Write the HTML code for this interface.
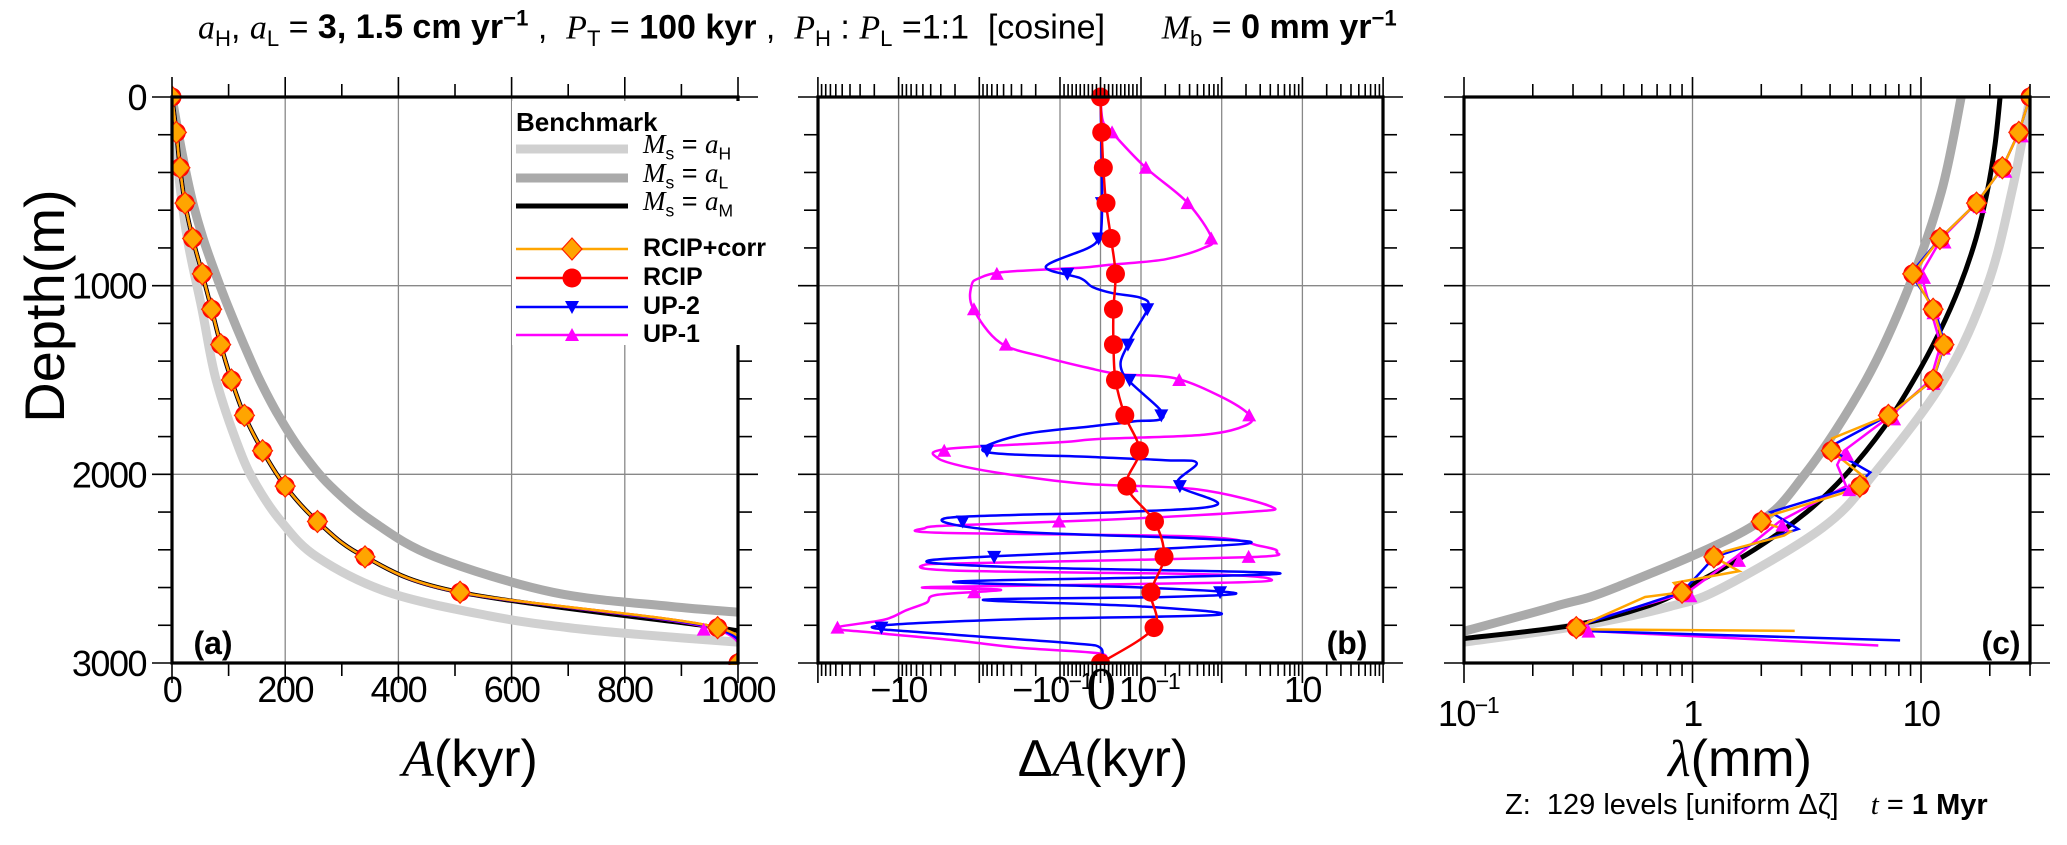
<!DOCTYPE html>
<html><head><meta charset="utf-8">
<style>
body{margin:0;width:2067px;height:845px;background:#fff;position:relative;overflow:hidden;font-family:"Liberation Sans",sans-serif}
.t{position:absolute;white-space:pre;color:#000;line-height:1}
.c{text-align:center;width:400px}
.m{font-family:"Liberation Serif",serif;font-style:italic}
sub,sup{font-size:65%}
</style></head>
<body>
<svg id="chart" width="2067" height="845" style="position:absolute;left:0;top:0"></svg>

<div class="t" style="left:198px;top:8px;font-size:34px;"><span class="m">a</span><sub>H</sub>, <span class="m">a</span><sub>L</sub> = <b>3, 1.5 cm yr<sup>−1</sup></b> ,  <span class="m">P</span><sub>T</sub> = <b>100 kyr</b> ,  <span class="m">P</span><sub>H</sub> : <span class="m">P</span><sub>L</sub> =1:1  [cosine]      <span class="m">M</span><sub>b</sub> = <b>0 mm yr<sup>−1</sup></b></div>

<div class="t" style="left:-80px;top:278px;font-size:56px;transform:rotate(-90deg);transform-origin:center;width:250px;text-align:center">Depth(m)</div>
<div class="t c" style="left:270px;top:733px;font-size:52px;"><span class="m">A</span>(kyr)</div>
<div class="t c" style="left:903px;top:733px;font-size:52px;">Δ<span class="m">A</span>(kyr)</div>
<div class="t c" style="left:1540px;top:733px;font-size:52px;"><span class="m">λ</span>(mm)</div>
<div class="t" style="left:1505px;top:791px;font-size:29px;">Z:  129 levels [uniform Δζ]    <span class="m">t</span> = <b>1 Myr</b></div>

<div class="t" style="left:516px;top:109px;font-size:26px;font-weight:bold">Benchmark</div>
<div class="t" style="left:643px;top:131px;font-size:27px;"><span class="m">M</span><sub>s</sub> = <span class="m">a</span><sub>H</sub></div>
<div class="t" style="left:643px;top:160px;font-size:27px;"><span class="m">M</span><sub>s</sub> = <span class="m">a</span><sub>L</sub></div>
<div class="t" style="left:643px;top:188px;font-size:27px;"><span class="m">M</span><sub>s</sub> = <span class="m">a</span><sub>M</sub></div>
<div class="t" style="left:643px;top:236px;font-size:25px;font-weight:bold">RCIP+corr</div>
<div class="t" style="left:643px;top:265px;font-size:25px;font-weight:bold">RCIP</div>
<div class="t" style="left:643px;top:294px;font-size:25px;font-weight:bold">UP-2</div>
<div class="t" style="left:643px;top:322px;font-size:25px;font-weight:bold">UP-1</div>

<script>
// ---------- data ----------
const markerDepths = [0,187.5,375,562.5,750,937.5,1125,1312.5,1500,1687.5,1875,2062.5,2250,2437.5,2625,2812.5,3000];
// panel a: age (kyr)
const ageRCIP = [0,7.7,14,23,36.5,53.6,70,86,105,128,160,200,257,341,509,964,1000];
const ageCorr = [0,7.7,14,23,36.5,53.6,70,86,105,128,160,200,257,341,509,964,1000];
const ageUP2  = [0,7.7,14,23,36.5,53.6,70,86,105,128,160,200,257,341,507,955,1000];
const ageUP1  = [0,7.7,14,23,36.5,53.6,70,86,105,128,160,200,257,341,506,950,1000];
const benchHDepth = [0,375,750,1125,1500,1875,2062.5,2250,2437.5,2625,2750,2812.5,2850,2890];
const benchHAge   = [0,10.5,27,53,78,120,150,193,256,382,560,700,830,1000];
const benchMDepth = [0,187.5,375,562.5,750,937.5,1125,1312.5,1500,1687.5,1875,2062.5,2250,2437.5,2625,2812.5,2832];
const benchMAge   = [0,7.7,14,23,36.5,53.6,70,86,105,128,160,200,257,341,509,964,1000];
const benchLDepth = [0,187.5,375,562.5,750,937.5,1125,1312.5,1500,1687.5,1875,2062.5,2250,2437.5,2625,2700,2730];
const benchLAge   = [0,11,23,37,55,77,101,127,155,188,228,280,355,465,673,880,1000];
// panel b: age error (kyr)
const diffRCIP = [0,0.003,0.007,0.0136,0.026,0.037,0.032,0.032,0.037,0.06,0.096,0.065,0.147,0.193,0.133,0.145,0];
const up1Depth = [0,120,175,371,557,747,800,860,890,905,927,960,1000,1118,1303,1380,1436,1470,1490,1590,1685,1740,1790,1812,1830,1866,1913,1960,2010,2051,2080,2173,2200,2242,2270,2285,2310,2330,2380,2411,2440,2470,2480,2510,2530,2555,2575,2597,2610,2620,2640,2680,2720,2770,2814,2840,2880,2920,2950,3000];
const up1Diff  = [0,0.005,0.023,0.112,0.37,0.75,0.6,0.2,0.02,-0.05,-0.48,-1.0,-1.25,-1.2,-0.55,-0.15,-0.03,0.05,0.26,1.0,2.2,2.0,0.6,0,-0.1,-2.6,-3.3,-1.5,-0.3,-0.03,0.5,4.2,2,0,-2,-4.7,-3,0.5,3,4.8,2,-1,-4.8,-2,0.6,4.0,1,-4,-0.6,-0.8,-3.5,-4.5,-8,-15,-60,-20,-2,-0.3,0,0];
const up2Depth = [0,500,700,752,800,900,960,1007,1040,1065,1118,1309,1463,1685,1720,1745,1790,1880,1908,1925,1940,2055,2162,2200,2231,2300,2340,2365,2400,2453,2490,2522,2545,2570,2600,2630,2650,2665,2700,2745,2770,2808,2850,2895,2920,3000];
const up2Diff  = [0,0.004,0.002,-0.005,-0.03,-0.15,-0.05,-0.02,0.03,0.1,0.122,0.068,0.055,0.19,0.08,-0.02,-0.3,-0.85,-0.02,0.2,0.49,0.28,0.87,0.05,-2.5,-0.5,0.5,2.2,0.1,-3.7,-0.5,4.6,0.2,-2.1,0.1,1.5,0.2,-0.9,0.1,0.87,-0.5,-21,-2,-0.07,0,0];
// panel c: annual layer thickness (mm)
const lamHDepth = [0,500,1000,1500,2000,2284,2601,2700,2800,2890];
const lamH      = [30,25,19.5,12.6,6.2,3.7,1.35,0.8,0.33,0.1];
const lamMDepth = [0,250,500,750,1000,1250,1500,1750,2000,2200,2400,2600,2700,2800,2870];
const lamM      = [22.2,21.1,19.5,17.4,14.8,12.0,9.3,6.9,4.7,3.16,1.86,0.95,0.63,0.3,0.1];
const lamLDepth = [0,500,1000,1500,2000,2284,2601,2700,2832];
const lamL      = [15,12.3,8.9,5.75,3.1,1.78,0.46,0.25,0.1];
const corrDepth = [0,187.5,375,562.5,750,937.5,1125,1312.5,1500,1687.5,1810,1875,2020,2062.5,2104,2220,2250,2303,2324,2408,2437.5,2513,2576,2625,2650,2812.5,2822,2830];
const corrLam   = [30,26.8,22.7,17.5,12.1,9.2,11.3,12.6,11.3,7.2,4.08,4.05,5.73,5.4,4.42,2.16,2.0,2.69,2.52,1.39,1.24,1.60,0.83,0.9,0.62,0.31,0.33,2.8];
const rcipLam   = [30,26.8,22.7,17.5,12.1,9.2,11.3,12.6,11.3,7.2,4.05,5.4,2.0,1.24,0.9,0.31];
const up2LamDepth = [0,187.5,375,562.5,750,937.5,1125,1312.5,1500,1687.5,1860,1990,2062.5,2200,2290,2437.5,2625,2812.5,2830,2880];
const up2Lam      = [30,26.8,22.7,17.5,12.1,9.0,11.5,12.7,11.3,7.2,3.9,6.0,5.2,2.2,2.9,1.25,0.9,0.3,0.32,8.1];
const up1LamDepth = [0,187.5,375,562.5,750,937.5,1125,1312.5,1500,1687.5,1875,1950,2062.5,2250,2437.5,2625,2780,2812.5,2830,2907];
const up1Lam      = [30,26.8,22.7,17.5,12.3,10.0,11.0,12.2,11.0,7.4,4.6,4.3,4.7,2.4,1.55,0.95,0.35,0.34,0.35,6.5];

// ---------- scales ----------
const TOP=97, BOT=663;
const yD = d => TOP + d*(BOT-TOP)/3000;
const A = {l:172, r:738}, B = {l:818, r:1383}, C = {l:1464, r:2030};
const xa = v => A.l + v*(A.r-A.l)/1000;
const BC = 1100.5, LIN = 40.5, DEC = 80.7;
const xb = v => { const a=Math.abs(v), s=v<0?-1:1; const p = a<=0.1 ? a/0.1*LIN : LIN + Math.log10(a/0.1)*DEC; return BC + s*p; };
const xc = v => C.l + (Math.log10(v)+1)*228.5;

const svg = document.getElementById('chart');
const NS='http://www.w3.org/2000/svg';
function mk(tag, attrs, parent){ const e=document.createElementNS(NS,tag); for(const k in attrs) e.setAttribute(k,attrs[k]); (parent||svg).appendChild(e); return e; }
function smooth(p){ let d='M'+p[0][0].toFixed(1)+','+p[0][1].toFixed(1);
  for(let i=0;i<p.length-1;i++){ const p0=p[i-1]||p[i], p1=p[i], p2=p[i+1], p3=p[i+2]||p2;
    d+=' C'+(p1[0]+(p2[0]-p0[0])/6).toFixed(1)+','+(p1[1]+(p2[1]-p0[1])/6).toFixed(1)+' '+(p2[0]-(p3[0]-p1[0])/6).toFixed(1)+','+(p2[1]-(p3[1]-p1[1])/6).toFixed(1)+' '+p2[0].toFixed(1)+','+p2[1].toFixed(1);}
  return d; }
function poly(p){ return 'M'+p.map(q=>q[0].toFixed(1)+','+q[1].toFixed(1)).join(' L'); }
function interpX(pts, y){ for(let i=0;i<pts.length-1;i++){ const a=pts[i], b=pts[i+1]; if((y>=a[1]&&y<=b[1])){ const t=b[1]===a[1]?0:(y-a[1])/(b[1]-a[1]); return a[0]+t*(b[0]-a[0]); } } return pts[pts.length-1][0]; }

const defs = mk('defs',{});
[['clipA',A],['clipB',B],['clipC',C]].forEach(([id,P])=>{ const cp=mk('clipPath',{id:id},defs); mk('rect',{x:P.l,y:TOP-12,width:P.r-P.l,height:BOT-TOP+14},cp); });

function marker(g, type, x, y, color){
  let e;
  if(type==='circle') e=mk('circle',{cx:x,cy:y,r:9.5,fill:'#ff0000'},g);
  else if(type==='diamond') e=mk('path',{d:`M${x},${y-11} L${x+10},${y} L${x},${y+11} L${x-10},${y} Z`,fill:'#ffa500',stroke:'#ff2000','stroke-width':1.2},g);
  else if(type==='down') e=mk('path',{d:`M${x-7},${y-6} L${x+7},${y-6} L${x},${y+7} Z`,fill:color},g);
  else e=mk('path',{d:`M${x-7},${y+6} L${x+7},${y+6} L${x},${y-7} Z`,fill:color},g);
  
  
  return e;
}

// ---------- grids ----------
const grid = mk('g',{stroke:'#888','stroke-width':1.3});


[1000,2000].forEach(d=>{ [[A.l,A.r],[B.l,B.r],[C.l,C.r]].forEach(([l,r])=>mk('line',{x1:l,x2:r,y1:yD(d),y2:yD(d)},grid)); });
[200,400,600,800].forEach(v=>mk('line',{x1:xa(v),x2:xa(v),y1:TOP,y2:BOT},grid));
[-10,-1,-0.1,0,0.1,1,10].forEach(v=>mk('line',{x1:xb(v),x2:xb(v),y1:TOP,y2:BOT},grid));
[1,10].forEach(v=>mk('line',{x1:xc(v),x2:xc(v),y1:TOP,y2:BOT},grid));

// ---------- panel a ----------
const ga = mk('g',{'clip-path':'url(#clipA)',fill:'none'});


function benchA(dep, age, color, w, name){ const p=mk('path',{d:smooth(dep.map((d,i)=>[xa(age[i]),yD(d)])),stroke:color,'stroke-width':w,fill:'none'},ga);   }
benchA(benchHDepth, benchHAge, '#d0d0d0', 9, 'benchmark-ah-line');
benchA(benchLDepth, benchLAge, '#aaaaaa', 9, 'benchmark-al-line');
benchA(benchMDepth, benchMAge, '#000000', 4.5, 'benchmark-am-line');
[[ageUP1,'#ff00ff','up1-line-a'],[ageUP2,'#0000ff','up2-line-a'],[ageRCIP,'#ff0000','rcip-line-a'],[ageCorr,'#ffa500','rcip-corr-line-a']].forEach(([arr,c,n])=>{
  const pts = markerDepths.map((d,i)=>[xa(arr[i]),yD(d)]);
  const p=mk('path',{d:smooth(pts),stroke:c,'stroke-width':2.5,fill:'none'},ga);
  
  
});
markerDepths.forEach((d,i)=>{ if(i>=15){ marker(ga,'up',xa(ageUP1[i])-6,yD(d)+2,'#ff00ff'); } });
markerDepths.forEach((d,i)=>{ marker(ga,'circle',xa(ageRCIP[i]),yD(d)); marker(ga,'diamond',xa(ageCorr[i]),yD(d)); });

// ---------- panel b ----------
const gb = mk('g',{'clip-path':'url(#clipB)',fill:'none'});


const up1Pts = up1Depth.map((d,i)=>[xb(up1Diff[i]),yD(d)]);
const up2Pts = up2Depth.map((d,i)=>[xb(up2Diff[i]),yD(d)]);
const rPts = markerDepths.map((d,i)=>[xb(diffRCIP[i]),yD(d)]);
let pb=mk('path',{d:smooth(up1Pts),stroke:'#ff00ff','stroke-width':2.5},gb);


pb=mk('path',{d:smooth(up2Pts),stroke:'#0000ff','stroke-width':2.5},gb);


pb=mk('path',{d:smooth(rPts),stroke:'#ff0000','stroke-width':2.5},gb);


markerDepths.forEach((d,i)=>{ if(i>0&&i<16){ marker(gb,'up',interpX(up1Pts,yD(d)),yD(d),'#ff00ff'); marker(gb,'down',interpX(up2Pts,yD(d)),yD(d),'#0000ff'); } });
rPts.forEach(p=>marker(gb,'circle',p[0],p[1]));

// ---------- panel c ----------
const gc = mk('g',{'clip-path':'url(#clipC)',fill:'none'});


function lineC(dep, val, color, w, name, sm){ const pts=dep.map((d,i)=>[xc(val[i]),yD(d)]); const p=mk('path',{d:sm?smooth(pts):poly(pts),stroke:color,'stroke-width':w,fill:'none'},gc);   return pts; }
lineC(lamHDepth, lamH, '#d0d0d0', 9, 'benchmark-ah-line-c', true);
lineC(lamLDepth, lamL, '#aaaaaa', 9, 'benchmark-al-line-c', true);
lineC(lamMDepth, lamM, '#000000', 5, 'benchmark-am-line-c', true);
const u1c = lineC(up1LamDepth, up1Lam, '#ff00ff', 2.5, 'up1-line-c', false);
const u2c = lineC(up2LamDepth, up2Lam, '#0000ff', 2.5, 'up2-line-c', false);
lineC(corrDepth, corrLam, '#ffa500', 2.5, 'rcip-corr-line-c', false);
markerDepths.forEach((d,i)=>{ if(i>0&&i<16){ marker(gc,'up',interpX(u1c,yD(d))+3,yD(d)+4,'#ff00ff'); } });
rcipLam.forEach((v,i)=>{ marker(gc,'circle',xc(v),yD(markerDepths[i])); marker(gc,'diamond',xc(v),yD(markerDepths[i])); });

// ---------- legend ----------
const lg = mk('g',{});


mk('rect',{x:512,y:101,width:258,height:244,fill:'#fff'},lg);
[[149,'#d0d0d0',9],[178,'#aaaaaa',9],[206,'#000',5],[249,'#ffa500',2.5],[278,'#ff0000',2.5],[307,'#0000ff',2.5],[335,'#ff00ff',2.5]].forEach(([y,c,w])=>{
  const l=mk('line',{x1:516,x2:628,y1:y,y2:y,stroke:c,'stroke-width':w},lg);
  
  
});
marker(lg,'diamond',572,249); marker(lg,'circle',572,278); marker(lg,'down',572,307,'#0000ff'); marker(lg,'up',572,335,'#ff00ff');

// ---------- axes & ticks ----------
const ax = mk('g',{stroke:'#000',fill:'none'});


function tick(x1,y1,x2,y2,w){ mk('line',{x1,y1,x2,y2,'stroke-width':w||1.6},ax); }
function yTicks(P){ for(let d=0; d<=3000; d+=200){ const y=yD(d); const big=d%1000===0; const L=big?20:14; tick(P.l-L,y,P.l,y); if(!(P===A && y<345)) tick(P.r,y,P.r+L,y); } }
[A,B,C].forEach(yTicks);
tick(A.r,TOP,A.r+20,TOP);
function xTicks(xs){ xs.forEach(([x,big])=>{ const L=big?20:13; tick(x,TOP-L,x,TOP); tick(x,BOT,x,BOT+L); }); }
const ta=[]; for(let v=0;v<=1000;v+=100) ta.push([xa(v), v%200===0]); xTicks(ta);
const tb=[[xb(0),true]]; [0.1,1,10,100].forEach(v=>{ tb.push([xb(v),true]); tb.push([xb(-v),true]); });
[0.1,1,10].forEach(dd=>{ for(let m=2;m<=9;m++){ tb.push([xb(m*dd),false]); tb.push([xb(-m*dd),false]); } });
for(let m=1;m<=9;m++){ tb.push([xb(m*0.01),false]); tb.push([xb(-m*0.01),false]); }
xTicks(tb);
const tc=[[xc(0.1),true],[xc(1),true],[xc(10),true]]; [0.1,1,10].forEach(dd=>{ for(let m=2;m<=9;m++){ if(m*dd<=30) tc.push([xc(m*dd),false]); } }); xTicks(tc);
[A,B,C].forEach(P=>{ mk('rect',{x:P.l,y:TOP,width:P.r-P.l,height:BOT-TOP,'stroke-width':3.2,stroke:'#000'},ax); });
mk('line',{x1:A.r,y1:101,x2:A.r,y2:345,stroke:'#fff','stroke-width':5},ax);

// ---------- tick labels ----------
const tl = mk('g',{fill:'#000','font-family':'Liberation Sans, sans-serif','font-size':36,'letter-spacing':-1.5});


function txt(s,x,y,anchor,extra){ const t=mk('text',Object.assign({x,y,'text-anchor':anchor||'middle'},extra||{}),tl); t.textContent=s;   return t; }
const depthTicks=[0,1000,2000,3000];
depthTicks.forEach(d=>txt(String(d),146,yD(d)+13,'end'));
const ageTicks=[0,200,400,600,800,1000];
ageTicks.forEach(v=>txt(String(v),xa(v),702));
txt('−10',xb(-10),702); txt('10',xb(10),702);
let t1=txt('−10',xb(-0.1)-8,702); const s1=mk('tspan',{dy:-13,'font-size':23},t1); s1.textContent='−1';
let t2=txt('10',xb(0.1)+8,702); const s2=mk('tspan',{dy:-13,'font-size':23},t2); s2.textContent='−1';
txt('0',xb(0),709,'middle',{'font-size':60,'font-family':'Liberation Serif, serif'});
let t3=txt('10',xc(0.1)+4,726); const s3=mk('tspan',{dy:-13,'font-size':23},t3); s3.textContent='−1';
txt('1',xc(1),726); txt('10',xc(10),726);
const pl=[['(a)',213,'panel-label-a'],['(b)',1347,'panel-label-b'],['(c)',2001,'panel-label-c']];
pl.forEach(([s,x,n])=>{ const t=txt(s,x,654,'middle',{'font-size':32,'font-weight':'bold','letter-spacing':0});  });
</script>
</body></html>
